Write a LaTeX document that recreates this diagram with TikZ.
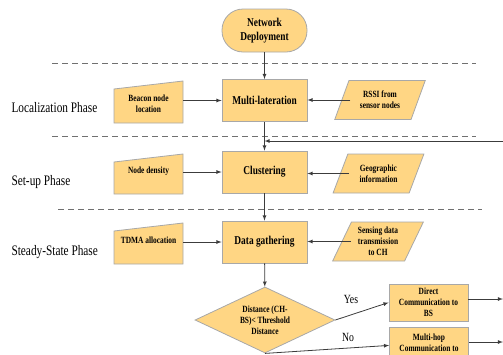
\documentclass[tikz,border=0pt]{standalone}
\usepackage{fontspec}
\setmainfont{Liberation Serif}[FakeStretch=0.78]
\usetikzlibrary{shapes.geometric}
\definecolor{boxfill}{HTML}{FFD684}
\definecolor{boxline}{HTML}{A8A8A8}
\definecolor{flowline}{HTML}{3C3C3C}
\definecolor{phaseline}{HTML}{707070}
\begin{document}
\begin{tikzpicture}[x=1pt,y=-1pt,
    flow/.style={draw=flowline,line width=0.8pt,-latex},
    sep/.style={draw=phaseline,line width=1pt,dash pattern=on 6pt off 4pt},
    phase/.style={anchor=west,font=\fontsize{14.5}{16}\selectfont},
    procbox/.style={draw=boxline,fill=boxfill,line width=0.8pt,minimum width=85pt,
      minimum height=42pt,align=center,font=\fontsize{12}{14}\selectfont\bfseries},
    terminal/.style={procbox,rounded corners=21pt,minimum height=43pt},
    inbox/.style={draw=boxline,fill=boxfill,line width=0.8pt},
    intext/.style={minimum width=69pt,inner sep=1pt,align=center,
      font=\fontsize{9.5}{11}\selectfont\bfseries},
    datain/.style={trapezium,trapezium left angle=64,trapezium right angle=116,
      trapezium stretches=true,draw=boxline,fill=boxfill,line width=0.8pt,
      minimum width=91pt,minimum height=39pt,inner sep=1pt,align=center,
      font=\fontsize{9.5}{11}\selectfont\bfseries},
    smallbox/.style={draw=boxline,fill=boxfill,line width=0.8pt,minimum width=79pt,
      minimum height=37pt,inner sep=1pt,align=center,
      font=\fontsize{9.5}{11}\selectfont\bfseries},
    answer/.style={font=\fontsize{12.5}{14}\selectfont}]
    \useasboundingbox (0,0) rectangle (503,354);
    \clip (0,0) rectangle (503,354);
    \foreach \lx/\ly in {52/63,52/136,58/209}{
      \draw[sep] (\lx,\ly) -- ++(424,0);
    }
    \foreach \ph/\py [count=\i] in {Localization Phase/108,Set-up Phase/182,Steady-State Phase/252}{
      \node[phase] (phase\i) at (8,\py) {\ph};
    }
    \node[terminal] (deploy) at (264.5,30.5) {Network\\Deployment};
    \node[procbox] (mlat) at (264.5,100.5) {Multi-lateration};
    \node[procbox] (clus) at (264.5,172) {Clustering};
    \node[procbox] (gather) at (264.5,242) {Data gathering};
    \foreach \nm/\ytop/\ybot/\ty/\lbl in {
        beacon/81/123/104/{Beacon node\\location},
        density/154/194/171/{Node density},
        tdma/223/264/240/{TDMA allocation}}{
      \filldraw[inbox] (114,\ytop+8) -- (183,\ytop) -- (183,\ybot) -- (114,\ybot) -- cycle;
      \node[intext] (\nm) at (148.5,\ty) {\lbl};
    }
    \node[datain] (rssi) at (380,100) {RSSI from\\sensor nodes};
    \node[datain] (geo) at (378.5,173.5) {Geographic\\information};
    \node[datain] (sense) at (378,241.5) {Sensing data\\transmission\\to CH};
    \node[diamond,aspect=2,draw=boxline,fill=boxfill,line width=0.8pt,
      minimum width=140pt,minimum height=66pt,inner sep=0pt,align=center,
      font=\fontsize{9.5}{11}\selectfont\bfseries] (dist) at (265,320)
      {Distance (CH-\\BS)< Threshold\\Distance};
    \node[smallbox] (direct) at (428.5,302.5) {Direct\\Communication to\\BS};
    \node[smallbox,anchor=north,minimum height=30pt] (mhop) at (429,327)
      {Multi-hop\\Communication to};
    \node[answer] (yes) at (351,299) {Yes};
    \node[answer] (no) at (348,337) {No};
    \coordinate (fbin) at (503,141);
    \coordinate (dout) at (503,299);
    \coordinate (mout) at (503,342);
    \draw[flow] (deploy) -- (mlat);
    \draw[flow] (mlat) -- (clus);
    \draw[flow] (clus) -- (gather);
    \draw[flow] (gather) -- (dist);
    \draw[flow] (fbin) -- (fbin -| mlat.south);
    \draw[flow] (beacon.east |- mlat) -- (mlat.west);
    \draw[flow] (density.east |- clus) -- (clus.west);
    \draw[flow] (tdma.east |- gather) -- (gather.west);
    \draw[flow] ([xshift=9pt]rssi.west) -- (rssi.west -| mlat.east);
    \draw[flow] ([xshift=9pt]geo.west) -- (geo.west -| clus.east);
    \draw[flow] ([xshift=9pt]sense.west) -- (sense.west -| gather.east);
    \draw[flow] (dist.east) -- (direct.west);
    \draw[flow] (dist.south) -- ([yshift=-3pt]mhop.west);
    \draw[flow] (direct.east |- dout) -- (dout);
    \draw[flow] (mhop.east |- mout) -- (mout);
  \end{tikzpicture}
\end{document}
